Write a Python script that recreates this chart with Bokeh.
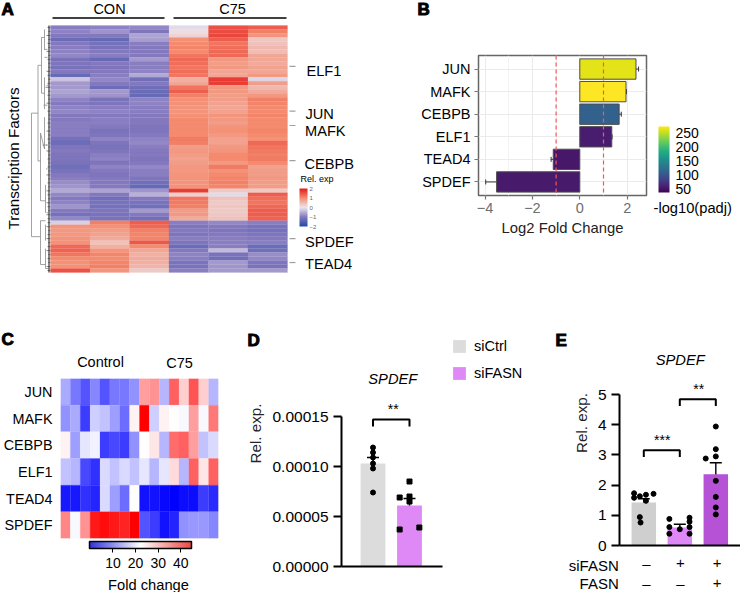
from bokeh.plotting import figure
from bokeh.layouts import column, row
from bokeh.embed import file_html
from bokeh.resources import INLINE
from bokeh.models import (Range1d, FactorRange, Label, LinearColorMapper, ColorBar, FixedTicker, AllLabels,
                          Span, Whisker, ColumnDataSource, Legend, LegendItem, NumeralTickFormatter)
from bokeh.transform import transform
from bokeh.palettes import Viridis256

FONT = "Liberation Sans"

# ---------- Panel A data ----------
A_COLS = ["CON1", "CON2", "CON3", "C751", "C752", "C753"]
A_C1 = [-.95,-.9,-1.0,-1.25,-1.0,-.95,-.9,-.85,-1.1,-1.05,-1.1,-1.0,-1.3,-.3,-.7,-.7,-.6,-.7,-.9,-1.0,-.9,-.85,
        -1.0,-1.0,-.95,-.95,-.95,-.95,-1.15,-1.25,-1.05,-1.0,-1.05,-1.05,-1.1,-1.2,-1.1,-1.0,-.95,-.8,-.75,-.55,
        -.85,-1.0,-.9,-.75,-1.0,-1.15,-.85,-.2,.9,.85,.85,.9,.95,1.3,1.35,1.2,1.0,.95,.95,1.5]
A_C2 = [-.9,-.75,-1.0,-1.3,-1.15,-1.1,-1.0,-.95,-1.3,-1.0,-1.05,-1.0,-.95,-.85,-1.0,-1.25,-.7,-.75,-1.1,-1.05,-.95,-.9,
        -1.0,-.95,-.95,-1.0,-1.1,-1.05,-.9,-1.05,-1.1,-1.05,-.95,-.9,-1.05,-.9,-1.0,-1.05,-1.0,-1.0,-1.0,-.6,
        -1.0,-1.2,-1.1,-1.15,-1.05,-1.1,-1.1,1.1,.95,.8,.75,.65,.4,.6,.9,1.05,1.0,1.05,1.1,.9]
A_C3 = [-.85,-1.05,-.6,-.65,-.95,-1.0,-1.0,-1.0,-.7,-.95,-.95,-.9,-.55,-1.2,-1.0,-1.2,-1.25,-1.3,-.9,-.9,-.95,-.95,
        -1.0,-1.0,-1.0,-1.05,-1.05,-1.0,-.9,-.85,-.95,-1.0,-1.0,-1.05,-1.0,-.85,-.95,-.95,-1.05,-1.2,-1.3,-.75,
        -.5,-1.0,-1.1,-1.2,-.7,-1.0,-1.2,1.4,1.3,1.1,1.05,1.05,1.45,1.0,.7,.6,.65,.6,.55,.3]
A_C4 = [-.1,.1,.2,.95,1.0,1.05,1.0,1.2,1.3,1.25,1.2,1.25,1.2,.6,.7,1.2,1.4,1.1,.95,.95,.9,.9,
        .95,1.0,1.0,1.0,1.0,1.0,1.15,1.1,.8,.85,.8,.75,.8,.85,.85,.9,.9,.9,.95,1.7,
        .25,1.2,1.15,1.1,.8,.85,.65,-.95,-1.05,-1.0,-1.05,-.95,-1.05,-1.25,-1.0,-.9,-.95,-1.1,-1.1,-.95]
A_C5 = [1.5,1.55,1.6,1.4,1.2,1.25,1.3,1.3,.85,.8,.85,.7,.7,1.7,1.7,.85,.85,.8,.8,.75,.7,.75,
        .9,.85,.8,.9,.95,.85,.75,.75,.85,.9,1.0,1.0,.85,1.15,.95,1.0,1.05,1.1,1.05,.3,
        -.1,.4,.3,.35,.3,.35,.4,-.85,-1.0,-1.05,-1.0,-.95,-.95,-.95,-.4,-1.1,-1.2,-.7,-.75,-.7]
A_C6 = [1.4,1.1,.9,.35,.4,.5,.45,.7,.7,.65,.75,.7,.85,-.15,.8,.5,.65,.85,1.1,1.05,1.0,1.0,
        1.05,1.0,1.0,1.0,1.05,1.0,.95,1.3,1.2,1.15,1.1,1.15,1.0,.75,.8,.8,.85,.8,.8,.3,
        1.4,1.25,1.2,1.3,1.4,1.4,1.35,-.95,-1.1,-1.15,-1.05,-1.0,-.95,-1.25,-1.2,-.8,-.85,-1.05,-1.1,-.7]
A_SERIES = [A_C1, A_C2, A_C3, A_C4, A_C5, A_C6]
A_GENES = ["ELF1", "JUN", "MAFK", "CEBPB", "SPDEF", "TEAD4"]
A_GENE_ROWS = [10.25, 21.5, 25.1, 33.9, 53.5, 59.5]
A_LEAVES = [3,2,4,2,3,2,4,2,3,2,2,4,3,2,3,5,2,3,2,4,2,3,2,2,3,2,4,2,3,2,2,4,2,3,2,3,2,4,2,3,2,4,
            3,2,4,3,2,4,3,3,4,2,3,4,2,3,4,2,3,2,4,3]
DENDRO_D0 = [19,19,19,12.5,12.5,12.5,9,9,9,6,6,6,10,10,10,6,5,10,10,10,5,5,6.5,7,4.5,4.5,8,4,4,5]
DENDRO_R0 = [22,22,53,10,10,34,3,3,17,1,13,8,27,27,44,23,40,49,49,60,50,56,6,20,36,30,30,15,47,61]
DENDRO_D1 = [19,12.5,10,12.5,9,10,9,6,6,6,6,3,10,6,5,6,5,10,5,5,5,5,3,3,3,3,3,2,2,2]
DENDRO_R1 = [53,22,53,34,10,34,17,3,17,6,21,8,44,31,44,31,47,60,49,60,54,61,6,20,36,30,30,15,47,61]

# ---------- Panel B data ----------
B_GENES = ["JUN", "MAFK", "CEBPB", "ELF1", "TEAD4", "SPDEF"]
B_LFC = [2.37, 1.95, 1.66, 1.35, -1.12, -3.51]
B_LO = [2.26, 1.92, 1.53, 1.34, -1.21, -3.97]
B_HI = [2.48, 1.97, 1.75, 1.36, -1.07, -3.02]
B_PADJ = [264, 274, 112, 58, 54, 56]
B_TICKS = [-4, -2, 0, 2]
B_CB_TICKS = [50, 100, 150, 200, 250]

# ---------- Panel C data ----------
C_GENES = ["JUN", "MAFK", "CEBPB", "ELF1", "TEAD4", "SPDEF"]
C_JUN   = [14,10,7,11,7,10,10,12,29,30,15,34,25,35,25,15]
C_MAFK  = [12,14,5,17,16,13,9,22,45,17,22,21,20.5,29,20.5,32]
C_CEBPB = [22,13,19,20,5,6,5,12,21,23,15,33,34,29,16,18]
C_ELF1  = [16,15,6,4,18,16,18,16,19,15,19,24,15,34,23,34]
C_TEAD4 = [2,2,4,3,18,13,9,21,1.5,1.5,.7,0,1,1,5,3.5]
C_SPDEF = [31,20.5,30,40,41,40,39,45,7,5,1.5,3,12,12.5,12.5,11]
C_SERIES = [C_JUN, C_MAFK, C_CEBPB, C_ELF1, C_TEAD4, C_SPDEF]
C_TICKS = [10, 20, 30, 40]

# ---------- Panel D data ----------
D_GROUPS = ["siCtrl", "siFASN"]
D_MEAN = [0.000103, 0.000061]
D_LO = [0.000096, 0.000053]
D_HI = [0.000109, 0.000068]
D_CTRL_Y = [0.000119, 0.000114, 0.000109, 0.000103, 0.000098, 0.000074]
D_FASN_OFF = [0, -.27, 0, 0, -.27, .27]
D_FASN_Y = [0.000085, 0.000069, 0.00007, 0.000065, 0.000037, 0.000039]
D_TICKS = [0, 0.00005, 0.0001, 0.00015]

# ---------- Panel E data ----------
E_MEAN = [1.42, 0.60, 2.36]
E_LO = [1.30, 0.51, 2.00]
E_HI = [1.55, 0.70, 2.74]
E_G1_OFF = [-.27,-.27,-.11,.06,.27,.06,-.11,-.09]
E_G1_Y = [1.73,1.58,1.63,1.68,1.71,1.48,.94,.76]
E_G2_OFF = [-.29,.27,.27,-.29,0,.27,-.29,.27]
E_G2_Y = [.88,.92,.79,.61,.54,.61,.39,.39]
E_G3_OFF = [0,0,-.28,0,0,0,0,0]
E_G3_Y = [3.94,3.19,2.88,2.95,2.14,1.61,1.26,1.03]
E_SIFASN = ["–", "+", "+"]
E_FASN = ["–", "–", "+"]
E_TICKS = [0, 1, 2, 3, 4, 5]


def interp(anchors, n=256):
    out = []
    for i in range(n):
        t = i / (n - 1) * (len(anchors) - 1)
        k = min(int(t), len(anchors) - 2)
        f = t - k
        a, b = anchors[k], anchors[k + 1]
        c = [round(a[j] + (b[j] - a[j]) * f) for j in range(3)]
        out.append("#%02x%02x%02x" % tuple(c))
    return out


def panel(x0, y0, x1, y1, fx0, fy0, fx1, fy1, xr, yr, **kw):
    p = figure(width=x1 - x0, height=y1 - y0, x_range=xr, y_range=yr, output_backend="svg",
               toolbar_location=None, min_border_left=fx0 - x0, min_border_right=x1 - fx1,
               min_border_top=fy0 - y0, min_border_bottom=y1 - fy1, outline_line_color=None,
               background_fill_color=None, border_fill_color=None, **kw)
    p.grid.visible = False
    return p


# transparent page-sized layer that holds the free-standing texts
ov = panel(0, 0, 740, 592, 0, 0, 740, 592, Range1d(0, 740), Range1d(592, 0),
           x_axis_type=None, y_axis_type=None)


def lab(X, Y, text, size=14, align="left", base="middle", color="black", style="normal", angle=0, outline=None):
    ov.add_layout(Label(x=X, y=Y, text=text, text_font=FONT, text_font_size=f"{size}px", text_align=align,
                        text_baseline=base, text_color=color, text_font_style=style, angle=angle,
                        angle_units="deg", text_outline_color=outline))


def letter(X, Y, text):
    lab(X, Y, text, 17, style="bold", outline="black")


def style_axes(ax, size=15.5):
    ax.axis_line_width = 2
    ax.major_tick_line_width = 2
    ax.major_tick_out = 8
    ax.major_tick_in = 0
    ax.minor_tick_out = 0
    ax.minor_tick_in = 0
    ax.major_label_text_font = FONT
    ax.major_label_text_font_size = f"{size}px"
    ax.major_label_text_color = "black"
    ax.major_label_standoff = 5


def rel_label(ax, standoff):
    ax.axis_label = "Rel. exp."
    ax.axis_label_text_font = FONT
    ax.axis_label_text_font_style = "normal"
    ax.axis_label_text_font_size = "15.2px"
    ax.axis_label_text_color = "#222222"
    ax.axis_label_standoff = standoff


# ================= Panel A =================
AX0, AX1, AY0, AY1 = 50, 287, 25, 272
cw = (AX1 - AX0) / 6
rh = (AY1 - AY0) / len(A_C1)
pa = panel(0, 0, 370, 300, 0, 0, 370, 300,
           Range1d((0 - AX0) / cw, (370 - AX0) / cw), Range1d((300 - AY0) / rh, (0 - AY0) / rh),
           x_axis_type=None, y_axis_type=None)
A_PAL = interp([(31, 74, 165), (132, 120, 191), (236, 230, 238), (244, 140, 112), (227, 26, 28)])
amap = LinearColorMapper(palette=A_PAL, low=-2, high=2)
xs, ys, vs = [], [], []
for c, ser in enumerate(A_SERIES):
    for r, v in enumerate(ser):
        xs.append(c + .5); ys.append(r + .5); vs.append(v)
sa = ColumnDataSource(dict(x=xs, y=ys, v=vs))
pa.rect("x", "y", width=1, height=1, source=sa, fill_color=transform("v", amap),
        line_color=transform("v", amap), line_width=0.2)
# dendrogram: distance (px left of the heatmap) against row
to_x = lambda d: -d / cw
pa.segment([to_x(d) for d in DENDRO_D0], DENDRO_R0, [to_x(d) for d in DENDRO_D1], DENDRO_R1,
           line_color="#8a8a8a", line_width=0.8)
rows = [i + .5 for i in range(len(A_LEAVES))]
pa.segment([to_x(d) for d in A_LEAVES], rows, [0] * len(rows), rows, line_color="#555555", line_width=0.7)
pa.segment([to_x(1.5)], [0], [to_x(1.5)], [len(rows)], line_color="#333333", line_width=1.2)
# headers
pa.segment([(52 - AX0) / cw, (173 - AX0) / cw], [-(25 - 17.5) / rh] * 2, [(164 - AX0) / cw, (286 - AX0) / cw],
           [-(25 - 17.5) / rh] * 2, line_color="black", line_width=1.4)
pa.segment([6 + 2 / cw] * 6, A_GENE_ROWS, [6 + 8 / cw] * 6, A_GENE_ROWS, line_color="#a0a0a0", line_width=1.2)
letter(1, 8.5, "A")
lab(109, 8.5, "CON", 14.5, "center")
lab(232, 8.5, "C75", 14.5, "center")
lab(13, 158, "Transcription Factors", 15.2, "center", angle=90)
for g, X, Y in zip(A_GENES, [306, 305, 304.5, 304, 304.5, 304.5], [70, 113, 130, 163, 241, 263]):
    lab(X, Y, g, 14.6)
lab(300, 178, "Rel. exp", 9)
pa.add_layout(ColorBar(color_mapper=amap, location=(299, 300 - 226), width=8, height=38, padding=0, margin=0,
                       ticker=FixedTicker(ticks=[-2, -1, 0, 1, 2]), major_tick_line_color=None,
                       major_label_text_font=FONT, major_label_text_font_size="6px",
                       major_label_text_color="#666666", label_standoff=2, major_label_policy=AllLabels(),
                       background_fill_color=None, bar_line_color=None, border_line_color=None))

# ================= Panel B =================
BF = (478, 55, 646, 195)
ppu = (626.7 - 579.3) / 2
bfr = FactorRange(factors=B_GENES[::-1], range_padding=0.1, range_padding_units="absolute")
pb = panel(370, 0, 740, 300, *BF, Range1d((BF[0] - 579.3) / ppu, (BF[2] - 579.3) / ppu), bfr)
bmap = LinearColorMapper(palette=Viridis256, low=39, high=274)
sb = ColumnDataSource(dict(g=B_GENES, v=B_LFC, lo=B_LO, hi=B_HI, p=B_PADJ, z=[0] * 6))
pb.xgrid.visible = True
pb.ygrid.visible = True
pb.xgrid.ticker = FixedTicker(ticks=B_TICKS, minor_ticks=[-3, -1, 1])
pb.grid.grid_line_color = "#ebebeb"
pb.xgrid.minor_grid_line_color = "#f3f3f3"
pb.xaxis.ticker = FixedTicker(ticks=B_TICKS)
pb.xaxis.major_label_overrides = {-4: "−4", -2: "−2", 0: "0", 2: "2"}
pb.hbar(y="g", left="z", right="v", height=0.9, source=sb, fill_color=transform("p", bmap),
        line_color="#4d4d4d", line_width=1)
wb = Whisker(source=sb, base="g", lower="lo", upper="hi", dimension="width", line_color="#333333", line_width=1)
wb.upper_head.size = 5; wb.lower_head.size = 5
wb.upper_head.line_color = "#333333"; wb.lower_head.line_color = "#333333"
pb.add_layout(wb)
for loc in (-1, 1):
    pb.add_layout(Span(location=loc, dimension="height", line_color="#f0585a", line_dash="4 3", line_width=1.2))
pb.outline_line_color = "#666666"
pb.outline_line_width = 1.5
for ax in (pb.xaxis[0], pb.yaxis[0]):
    ax.axis_line_color = None
    ax.major_tick_out = 4
    ax.major_tick_in = 0
    ax.major_tick_line_color = "#777777"
    ax.major_tick_line_width = 1.2
    ax.minor_tick_line_color = None
    ax.major_label_text_font = FONT
    ax.major_label_text_font_size = "14.5px"
pb.xaxis.major_label_text_color = "#6e6e6e"
pb.yaxis.major_label_text_color = "black"
pb.xaxis.major_label_standoff = 3
pb.yaxis.major_label_standoff = 4
pb.xaxis.axis_label = "Log2 Fold Change"
pb.xaxis.axis_label_text_font = FONT
pb.xaxis.axis_label_text_font_style = "normal"
pb.xaxis.axis_label_text_font_size = "14.8px"
pb.xaxis.axis_label_text_color = "#222222"
pb.xaxis.axis_label_standoff = 4
pb.add_layout(ColorBar(color_mapper=bmap, location=(658 - BF[0], BF[3] - 192), width=11, height=66, padding=0,
                       margin=0, ticker=FixedTicker(ticks=B_CB_TICKS), major_tick_line_color=None,
                       major_label_text_font=FONT, major_label_text_font_size="14px", label_standoff=6,
                       major_label_text_color="black", major_label_policy=AllLabels(),
                       background_fill_color=None, bar_line_color=None, border_line_color=None))
lab(653, 207, "-log10(padj)", 14.7)
letter(417, 8.5, "B")

# ================= Panel C =================
CF = (59, 378, 218, 538)
pc = panel(0, 300, 240, 592, *CF, Range1d(0, 16), FactorRange(factors=C_GENES[::-1]), x_axis_type=None)
cmap = LinearColorMapper(palette=interp([(0, 0, 255), (255, 255, 255), (255, 0, 0)]), low=0, high=42)
xc, yc, vc = [], [], []
for g, ser in zip(C_GENES, C_SERIES):
    for i, v in enumerate(ser):
        xc.append(i + .5); yc.append(g); vc.append(v)
pc.rect("x", "y", width=1, height=1, source=ColumnDataSource(dict(x=xc, y=yc, v=vc)),
        fill_color=transform("v", cmap), line_color=transform("v", cmap), line_width=0.2)
ya = pc.yaxis[0]
ya.axis_line_color = None
ya.major_tick_line_color = None
ya.major_tick_out = 0
ya.major_tick_in = 0
ya.minor_tick_out = 0
ya.major_label_text_font = FONT
ya.major_label_text_font_size = "14.4px"
ya.major_label_text_color = "black"
ya.major_label_standoff = 8
cbmap = LinearColorMapper(palette=interp([(50, 50, 220), (255, 255, 255), (235, 70, 70)]), low=-0.35, high=44.7)
pc.add_layout(ColorBar(color_mapper=cbmap, orientation="horizontal", location=(88 - CF[0], CF[3] - 548 - 22),
                       width=102, height=7, padding=0, margin=0, ticker=FixedTicker(ticks=C_TICKS),
                       major_tick_in=0, major_tick_out=4, major_tick_line_color="black", major_tick_line_width=1,
                       major_label_text_font=FONT, major_label_text_font_size="14px", label_standoff=5,
                       major_label_text_color="black",
                       background_fill_color=None, bar_line_color="black", bar_line_width=1.5,
                       border_line_color=None))
lab(100, 361.5, "Control", 14.5, "center")
lab(179, 362.5, "C75", 14.5, "center")
lab(148, 584, "Fold change", 14.7, "center")
letter(1, 339, "C")

# ================= Panel D =================
DF = (341, 300, 525, 566)
dp = 36.5
pd_ = panel(240, 300, 525, 592, *DF, Range1d(1 - (372.5 - DF[0]) / dp, 1 + (DF[2] - 372.5) / dp),
            Range1d(0, (DF[3] - DF[1]) * 1e-6))
r1 = pd_.vbar(x=[1], top=[D_MEAN[0]], width=.68, fill_color="#dcdcdc", line_color=None)
r2 = pd_.vbar(x=[2], top=[D_MEAN[1]], width=.68, fill_color="#de89f5", line_color=None)
wd = Whisker(source=ColumnDataSource(dict(b=[1, 2], lo=D_LO, hi=D_HI)), base="b", lower="lo", upper="hi",
             line_color="#111111", line_width=1.5)
wd.upper_head.size = 12; wd.lower_head.size = 12
wd.upper_head.line_width = 1.5; wd.lower_head.line_width = 1.5
pd_.add_layout(wd)
pd_.scatter([1] * len(D_CTRL_Y), D_CTRL_Y, size=5, marker="circle", color="black")
pd_.scatter([2 + o for o in D_FASN_OFF], D_FASN_Y, size=5, marker="square", color="black")
pd_.line([1, 1, 2, 2], [.00014, .000147, .000147, .00014], line_color="black", line_width=2)
lab(392.7, 408, "**", 14, "center")
lab(392.3, 378.3, "SPDEF", 14.7, "center", style="italic")
style_axes(pd_.yaxis[0])
style_axes(pd_.xaxis[0])
pd_.yaxis[0].ticker = FixedTicker(ticks=D_TICKS)
pd_.yaxis[0].formatter = NumeralTickFormatter(format="0.00000")
pd_.yaxis[0].bounds = (0, 0.00015)
rel_label(pd_.yaxis[0], 5)
pd_.xaxis[0].ticker = FixedTicker(ticks=[])
pd_.xaxis[0].bounds = (pd_.x_range.start, 1 + (441.7 - 372.5) / dp)
pd_.add_layout(Legend(items=[LegendItem(label=D_GROUPS[0], renderers=[r1]), LegendItem(label=D_GROUPS[1], renderers=[r2])],
                      location=(451 - DF[0], DF[3] - 381), glyph_width=16, glyph_height=16, spacing=11, padding=0,
                      margin=0, label_standoff=7, label_text_font=FONT, label_text_font_size="14.5px",
                      label_text_color="black",
                      border_line_color=None, background_fill_color=None, background_fill_alpha=0))
letter(247, 340, "D")

# ================= Panel E =================
EF = (619, 300, 740, 545)
ep = 36.0
py = 30.2
pe = panel(525, 300, 740, 592, *EF, Range1d(1 - (643.3 - EF[0]) / ep, 1 + (EF[2] - 643.3) / ep),
           Range1d(0, (EF[3] - EF[1]) / py))
pe.vbar(x=[1, 2, 3], top=E_MEAN, width=.68, fill_color=["#cfcfcf", "#dd88f4", "#b552d6"], line_color=None)
we = Whisker(source=ColumnDataSource(dict(b=[1, 2, 3], lo=E_LO, hi=E_HI)), base="b", lower="lo", upper="hi",
             line_color="#111111", line_width=1.5)
we.upper_head.size = 12; we.lower_head.size = 12
we.upper_head.line_width = 1.5; we.lower_head.line_width = 1.5
pe.add_layout(we)
for k, (off, vals) in enumerate([(E_G1_OFF, E_G1_Y), (E_G2_OFF, E_G2_Y), (E_G3_OFF, E_G3_Y)]):
    pe.scatter([k + 1 + o for o in off], vals, size=5, marker="circle", color="black")
pe.line([1, 1, 2, 2], [2.93, 3.15, 3.15, 2.93], line_color="black", line_width=2)
pe.line([2, 2, 3, 3], [4.62, 4.84, 4.84, 4.62], line_color="black", line_width=2)
lab(661.7, 439, "***", 14, "center")
lab(698.3, 388, "**", 14, "center")
lab(679.7, 359.3, "SPDEF", 14.7, "center", style="italic")
style_axes(pe.yaxis[0])
style_axes(pe.xaxis[0])
pe.yaxis[0].ticker = FixedTicker(ticks=E_TICKS)
pe.yaxis[0].bounds = (0, 5)
rel_label(pe.yaxis[0], 5)
pe.xaxis[0].ticker = FixedTicker(ticks=[])
lab(618.3, 564.5, "siFASN", 15, "right")
lab(618.3, 582.5, "FASN", 15, "right")
for X, s1, s2 in zip([646, 680, 716.7], E_SIFASN, E_FASN):
    lab(X, 562.5, s1, 15, "center")
    lab(X, 582.5, s2, 15, "center")
letter(555, 340, "E")

page = column(row(column(pa), column(pb), spacing=0),
              row(column(pc), column(pd_), column(pe), spacing=0),
              column(ov, margin=(-592, 0, 0, 0)), spacing=0)
open("out.html", "w").write(file_html(page, INLINE))
